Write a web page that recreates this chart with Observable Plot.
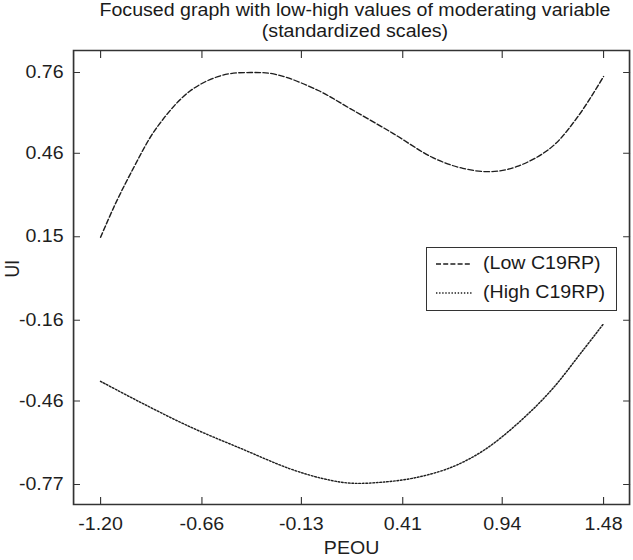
<!DOCTYPE html>
<html><head><meta charset="utf-8">
<script src="https://cdn.jsdelivr.net/npm/d3@7"></script>
<script src="https://cdn.jsdelivr.net/npm/@observablehq/plot@0.6"></script>
<style>
body{margin:0;background:#fff;font-family:"Liberation Sans",Arial,sans-serif;color:#1a1a1a;}
#wrap{position:relative;width:633px;height:560px;overflow:hidden;background:#fff;}
#title{position:absolute;left:0;top:0;width:710px;text-align:center;font-size:17.5px;line-height:20.5px;transform:scaleX(1.12);transform-origin:355px 0;white-space:nowrap;}
#chart{position:absolute;left:0;top:44px;transform-origin:0 0;}
#chart svg{display:block;}
#legend{position:absolute;left:426px;top:247px;width:191px;height:64px;border:1.5px solid #333;box-sizing:border-box;background:#fff;}
.row{position:absolute;left:8.5px;height:20px;display:flex;align-items:center;}
.row svg{display:block;}
.row span{display:inline-block;font-size:17.5px;transform:scaleX(1.12);transform-origin:0 50%;margin-left:11px;white-space:nowrap;}
</style>
</head><body>
<div id="wrap">
  <div id="title"></div>
  <div id="chart"></div>
  <div id="legend"></div>
</div>
<script>
const titleLines = ["Focused graph with low-high values of moderating variable", "(standardized scales)"];
const xLabel = "PEOU";
const yLabel = "UI";
const seriesNames = ["(Low C19RP)", "(High C19RP)"];

const xTicks = [-1.20, -0.66, -0.13, 0.41, 0.94, 1.48];
const yTicks = [0.76, 0.46, 0.15, -0.16, -0.46, -0.77];

const lowX = [-1.20, -1.13, -1.04, -0.90, -0.72, -0.55, -0.40, -0.26, -0.04, 0.13, 0.36, 0.57, 0.73, 0.88, 1.02, 1.20, 1.34, 1.48];
const lowY = [0.148, 0.259, 0.385, 0.556, 0.693, 0.750, 0.760, 0.752, 0.693, 0.626, 0.533, 0.444, 0.404, 0.392, 0.411, 0.481, 0.593, 0.745];

const highX = [-1.20, -0.99, -0.72, -0.45, -0.19, -0.01, 0.13, 0.31, 0.49, 0.67, 0.84, 1.02, 1.20, 1.37, 1.48];
const highY = [-0.387, -0.464, -0.557, -0.637, -0.712, -0.749, -0.765, -0.761, -0.743, -0.706, -0.644, -0.545, -0.421, -0.272, -0.173];

const ink = "#1e1e1e";
const dashes = ["5,2.2", "1.4,1.7"];

// the original lettering is horizontally stretched: draw narrower, then stretch
const stretch = 1.12;
const W = 633 / stretch;

const low = lowX.map((x, i) => ({x, y: lowY[i]}));
const high = highX.map((x, i) => ({x, y: highY[i]}));
const fmt = d => d.toFixed(2);
const blank = () => "";

document.getElementById("title").innerHTML = titleLines.map(t => `<div>${t}</div>`).join("");

const hx = v => v / stretch; // horizontal pixel amounts in the narrow drawing

const svg = Plot.plot({
  width: W, height: 516,
  marginTop: 6, marginBottom: 56, marginLeft: hx(73), marginRight: hx(4),
  x: {domain: [-1.344, 1.6185]},
  y: {domain: [-0.8443, 0.8417]},
  style: {fontFamily: "'Liberation Sans', Arial, sans-serif", fontSize: "17.5px", color: ink, background: "#fff"},
  marks: [
    Plot.line(low, {x: "x", y: "y", curve: "catmull-rom", stroke: ink, strokeWidth: 1.3, strokeDasharray: dashes[0]}),
    Plot.line(high, {x: "x", y: "y", curve: "catmull-rom", stroke: ink, strokeWidth: 1.4, strokeDasharray: dashes[1]}),
    Plot.axisX(xTicks, {anchor: "bottom", tickSize: 0, tickPadding: 13, tickFormat: fmt, label: null}),
    Plot.axisY(yTicks, {anchor: "left", tickSize: 0, tickPadding: hx(10), tickFormat: fmt, label: null}),
    Plot.axisX(xTicks, {anchor: "bottom", tickSize: 7, inset: 7, tickFormat: blank, label: null, stroke: "#333"}),
    Plot.axisX(xTicks, {anchor: "top", tickSize: 7, inset: 7, tickFormat: blank, label: null, stroke: "#333"}),
    Plot.axisY(yTicks, {anchor: "left", tickSize: hx(7), inset: hx(7), tickFormat: blank, label: null, stroke: "#333"}),
    Plot.axisY(yTicks, {anchor: "right", tickSize: hx(7), inset: hx(7), tickFormat: blank, label: null, stroke: "#333"}),
    Plot.frame({stroke: "#333", strokeWidth: 1.5}),
    Plot.text([xLabel], {frameAnchor: "bottom", dy: 44, lineAnchor: "middle", fill: ink}),
    Plot.text([yLabel], {frameAnchor: "left", dx: -hx(61), rotate: -90, lineAnchor: "middle", fill: ink})
  ]
});

const chart = document.getElementById("chart");
chart.style.transform = `scaleX(${633 / W})`;
chart.appendChild(svg);

const legend = document.getElementById("legend");
const rowTops = [5.5, 34.5];
seriesNames.forEach((name, i) => {
  const row = document.createElement("div");
  row.className = "row";
  row.style.top = rowTops[i] + "px";
  row.innerHTML = `<svg width="36" height="4"><line x1="0" y1="2" x2="36" y2="2" stroke="${ink}" stroke-width="1.3" stroke-dasharray="${dashes[i]}"/></svg><span>${name}</span>`;
  legend.appendChild(row);
});
</script>
</body></html>
